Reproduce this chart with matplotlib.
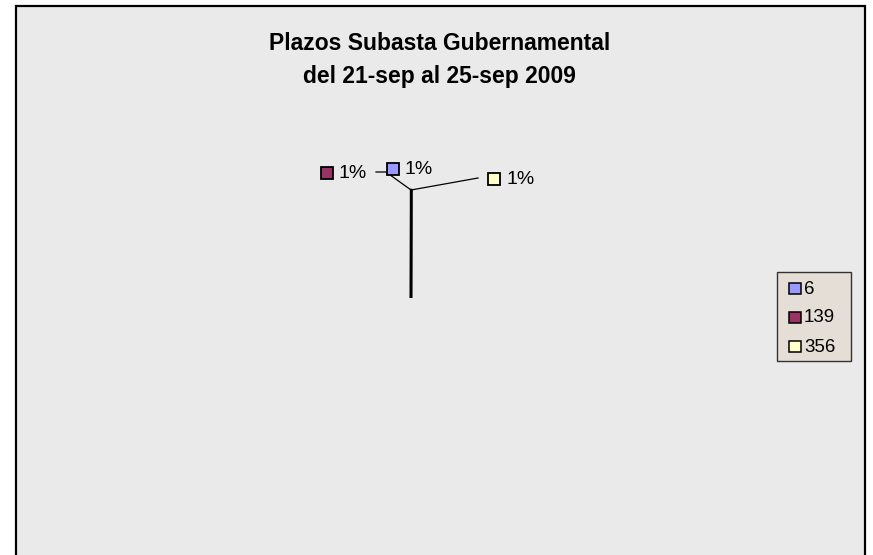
import matplotlib
matplotlib.use("Agg")
import matplotlib.pyplot as plt
from matplotlib.patches import Rectangle

plt.rcParams['font.family'] = ['Liberation Sans', 'DejaVu Sans']

# Data
categories = ['6', '139', '356']
pct_labels = ['1%', '1%', '1%']
values = [0.0001, 0.0001, 0.0001]     # practically degenerate slices as drawn
colors = ['#9999FF', '#993366', '#FFFFCC']
title_lines = ['Plazos Subasta Gubernamental', 'del 21-sep al 25-sep 2009']

W, H = 873, 555
fig = plt.figure(figsize=(W / 100, H / 100), dpi=100)
fig.patch.set_facecolor('white')
ax = fig.add_axes([0, 0, 1, 1])

# chart area
ax.add_patch(Rectangle((16, 6), 849, 560, facecolor='#eaeaea', edgecolor='black', lw=1.6, zorder=0))

# title
ax.text(440, 44, title_lines[0], ha='center', va='center', fontsize=16.5, fontweight='bold')
ax.text(439, 76, title_lines[1], ha='center', va='center', fontsize=16.5, fontweight='bold')

# pie (remainder hidden)
rest = 1 - sum(values)
wedges, _ = ax.pie(values + [rest], colors=colors + ['none'], center=(411, 298), radius=108,
                   startangle=-90, counterclock=True, frame=True,
                   wedgeprops=dict(edgecolor='black', linewidth=1.6))
wedges[-1].set_edgecolor('none')
ax.set_xlim(0, W)
ax.set_ylim(H, 0)
ax.axis('off')

# leader lines
ax.plot([411, 386, 376], [190, 172, 172], color='black', lw=0.9)
ax.plot([411, 478], [190, 178], color='black', lw=0.9)

# data labels
label_pos = {'6': (392.5, 168.5), '139': (326.5, 172.5), '356': (493.5, 178.5)}
for cat, col, lab in zip(categories, colors, pct_labels):
    x, y = label_pos[cat]
    ax.add_patch(Rectangle((x - 6, y - 6), 12, 12, facecolor=col, edgecolor='black', lw=1.3, zorder=3))
    ax.text(x + 12.5, y + 1, lab, ha='left', va='center', fontsize=14)

# legend
ax.add_patch(Rectangle((777, 272), 74, 89, facecolor='#e4ded6', edgecolor='#333333', lw=1.0, zorder=2))
for i, (cat, col) in enumerate(zip(categories, colors)):
    y = 288 + i * 29
    ax.add_patch(Rectangle((789, y - 5.5), 11.5, 11.5, facecolor=col, edgecolor='black', lw=1.1, zorder=3))
    ax.text(804, y + 1, cat, ha='left', va='center', fontsize=13.5, zorder=3)

fig.savefig('out.png', dpi=100)
